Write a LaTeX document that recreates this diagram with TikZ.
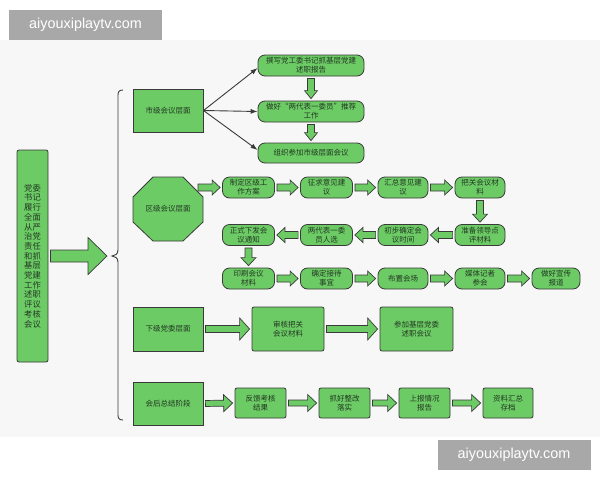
\documentclass[tikz,border=0pt]{standalone}
\usepackage{fontspec}
\setmainfont{Noto Sans CJK SC}
\newfontfamily\wmfont{Liberation Sans}
\usetikzlibrary{calc,arrows.meta}
\definecolor{boxgreen}{HTML}{6CCB65}
\definecolor{edge}{HTML}{3A3A3A}
\definecolor{txt}{HTML}{233823}
\definecolor{bgc}{HTML}{F7F7F7}
\definecolor{wmgray}{HTML}{A8A8A8}
\tikzset{
  box/.style={draw=edge, fill=boxgreen, line width=0.8pt, text=txt, inner sep=1pt,
    align=center, font=\fontsize{7.5}{9}\selectfont},
  sqbox/.style={box, minimum width=70pt, minimum height=43pt},
  pill/.style={box, rounded corners=7pt, minimum height=21pt, minimum width=52pt},
  wide/.style={pill, minimum width=106pt},
  soft/.style={box, rounded corners=2pt},
  blockarrow/.style={draw=edge, fill=boxgreen, line width=0.7pt, line join=miter},
  thinarrow/.style={draw=edge, line width=0.9pt, -{Latex[length=7pt,width=5pt]}},
  bracestyle/.style={draw=edge, line width=0.9pt},
  wm/.style={fill=wmgray, text=white, font=\wmfont\fontsize{14.4}{16}\selectfont,
    minimum width=153pt, minimum height=30pt, inner sep=0pt}
}
% block arrow: [style] from, to, half shaft, half head, head length
\newcommand\barrow[6][]{%
  \coordinate (ba-s) at ($(#2)!2pt!(#3)$);
  \coordinate (ba-e) at ($(#3)!2pt!(#2)$);
  \coordinate (ba-h) at ($(ba-e)!#6!(ba-s)$);
  \draw[blockarrow,#1] ($(ba-s)!#4!90:(ba-e)$) -- ($(ba-h)!#4!90:(ba-e)$)
    -- ($(ba-h)!#5!90:(ba-e)$) -- (ba-e) -- ($(ba-h)!#5!-90:(ba-e)$)
    -- ($(ba-h)!#4!-90:(ba-e)$) -- ($(ba-s)!#4!-90:(ba-e)$) -- cycle;
}
\begin{document}
\begin{tikzpicture}[x=1pt,y=-1pt]
\useasboundingbox (0,0) rectangle (600,480);
\fill[white] (0,0) rectangle (600,480);
\fill[bgc] (0,40) rectangle (600,437);

% watermarks
\node[wm] (wm1) at (85.5,25) {aiyouxiplaytv.com};
\node[wm] (wm2) at (514,455) {aiyouxiplaytv.com};

% left box
\node[box, rounded corners=2pt, minimum width=31pt, minimum height=212pt,
  font=\fontsize{8.3}{9.7}\selectfont] (left) at (32.5,256)
  {党委\\书记\\履行\\全面\\从严\\治党\\责任\\和抓\\基层\\党建\\工作\\述职\\评议\\考核\\会议};
\coordinate (bigend) at (109,256);
\barrow{left.east}{bigend}{6pt}{18.5pt}{19pt}

% brace
\draw[bracestyle] (123,90) .. controls (119.5,90) and (118,91.5) .. (118,95)
  -- (118,250) .. controls (118,254) and (115,256) .. (112,256)
  .. controls (115,256) and (118,258) .. (118,262)
  -- (118,415) .. controls (118,418.5) and (119.5,420) .. (123,420);

% city level
\node[sqbox] (shi) at (168,110.5) {市级会议层面};
\node[wide] (s1) at (311,65.5) {撰写党工委书记抓基层党建\\述职报告};
\node[wide] (s2) at (311,111.5) {做好“两代表一委员”推荐\\工作};
\node[wide, minimum height=20pt] (s3) at (311,153) {组织参加市级层面会议};
\coordinate (shiout) at (203.5,110.5);
\draw[thinarrow] (shiout) -- ($(s1.west)+(0,2.5)$);
\draw[thinarrow] (shiout) -- (s2.west);
\draw[thinarrow] (shiout) -- ($(s3.west)+(0,-3)$);
\barrow{s1.south}{s2.north}{3.5pt}{6.5pt}{8pt}
\barrow{s2.south}{s3.north}{3.5pt}{6.5pt}{8pt}

% district level
\fill[boxgreen, draw=edge, line width=0.8pt] (153,177) -- (183,177) -- (203,197) -- (203,222)
  -- (183,241) -- (153,241) -- (133,222) -- (133,197) -- cycle;
\node[minimum width=70pt, minimum height=64pt, inner sep=0pt, text=txt,
  font=\fontsize{7.5}{9}\selectfont] (oct) at (168,209) {区级会议层面};
\node[pill] (r1a) at (248.5,187.5) {制定区级工\\作方案};
\node[pill] (r1b) at (326.5,187.5) {征求意见建\\议};
\node[pill, minimum width=50pt] (r1c) at (403,187.5) {汇总意见建\\议};
\node[pill, minimum width=50pt] (r1d) at (480,187.5) {把关会议材\\料};
\node[pill, minimum width=50pt] (r2d) at (480,235) {准备领导点\\评材料};
\node[pill, minimum width=50pt] (r2c) at (403,235) {初步确定会\\议时间};
\node[pill] (r2b) at (326.5,235) {两代表一委\\员人选};
\node[pill] (r2a) at (248.5,235) {正式下发会\\议通知};
\node[pill] (r3a) at (248.5,278.5) {印刷会议\\材料};
\node[pill] (r3b) at (326.5,278.5) {确定接待\\事宜};
\node[pill, minimum width=50pt] (r3c) at (403,278.5) {布置会场};
\node[pill, minimum width=50pt] (r3d) at (480,278.5) {媒体记者\\参会};
\node[pill, minimum width=48pt] (r3e) at (556,278.5) {做好宣传\\报道};
\coordinate (octout) at (196,187.5);
\barrow{octout}{r1a.west}{3.5pt}{7.5pt}{8pt}
\barrow{r1a.east}{r1b.west}{3.5pt}{7.5pt}{8pt}
\barrow{r1b.east}{r1c.west}{3.5pt}{7.5pt}{8pt}
\barrow{r1c.east}{r1d.west}{3.5pt}{7.5pt}{8pt}
\barrow{r1d.south}{r2d.north}{3.5pt}{7.5pt}{8pt}
\barrow{r2d.west}{r2c.east}{3.5pt}{7.5pt}{8pt}
\barrow{r2c.west}{r2b.east}{3.5pt}{7.5pt}{8pt}
\barrow{r2b.west}{r2a.east}{3.5pt}{7.5pt}{8pt}
\barrow{r2a.south}{r3a.north}{3.5pt}{7.5pt}{8pt}
\barrow{r3a.east}{r3b.west}{3.5pt}{7.5pt}{8pt}
\barrow{r3b.east}{r3c.west}{3.5pt}{7.5pt}{8pt}
\barrow{r3c.east}{r3d.west}{3.5pt}{7.5pt}{8pt}
\barrow{r3d.east}{r3e.west}{3.5pt}{7.5pt}{8pt}

% lower level party committee
\node[sqbox, minimum height=44pt] (xia) at (168,329) {下级党委层面};
\node[soft, minimum width=72pt, minimum height=44pt] (x1) at (288,329) {审核把关\\会议材料};
\node[soft, minimum width=73pt, minimum height=44pt] (x2) at (416.5,329) {参加基层党委\\述职会议};
\barrow{xia.east}{x1.west}{3.5pt}{11pt}{10pt}
\barrow{x1.east}{x2.west}{3.5pt}{11pt}{10pt}

% post-meeting summary
\node[sqbox] (hui) at (168,403.5) {会后总结阶段};
\node[soft, minimum width=51pt, minimum height=30pt] (h1) at (260.5,403) {反馈考核\\结果};
\node[soft, minimum width=51pt, minimum height=30pt] (h2) at (344.5,403) {抓好整改\\落实};
\node[soft, minimum width=51pt, minimum height=30pt] (h3) at (424.5,403) {上报情况\\报告};
\node[soft, minimum width=50pt, minimum height=30pt] (h4) at (508,403) {资料汇总\\存档};
\barrow{hui.east}{h1.west}{3pt}{8.5pt}{9pt}
\barrow{h1.east}{h2.west}{3pt}{8.5pt}{9pt}
\barrow{h2.east}{h3.west}{3pt}{8.5pt}{9pt}
\barrow{h3.east}{h4.west}{3pt}{8.5pt}{9pt}
\end{tikzpicture}
\end{document}
